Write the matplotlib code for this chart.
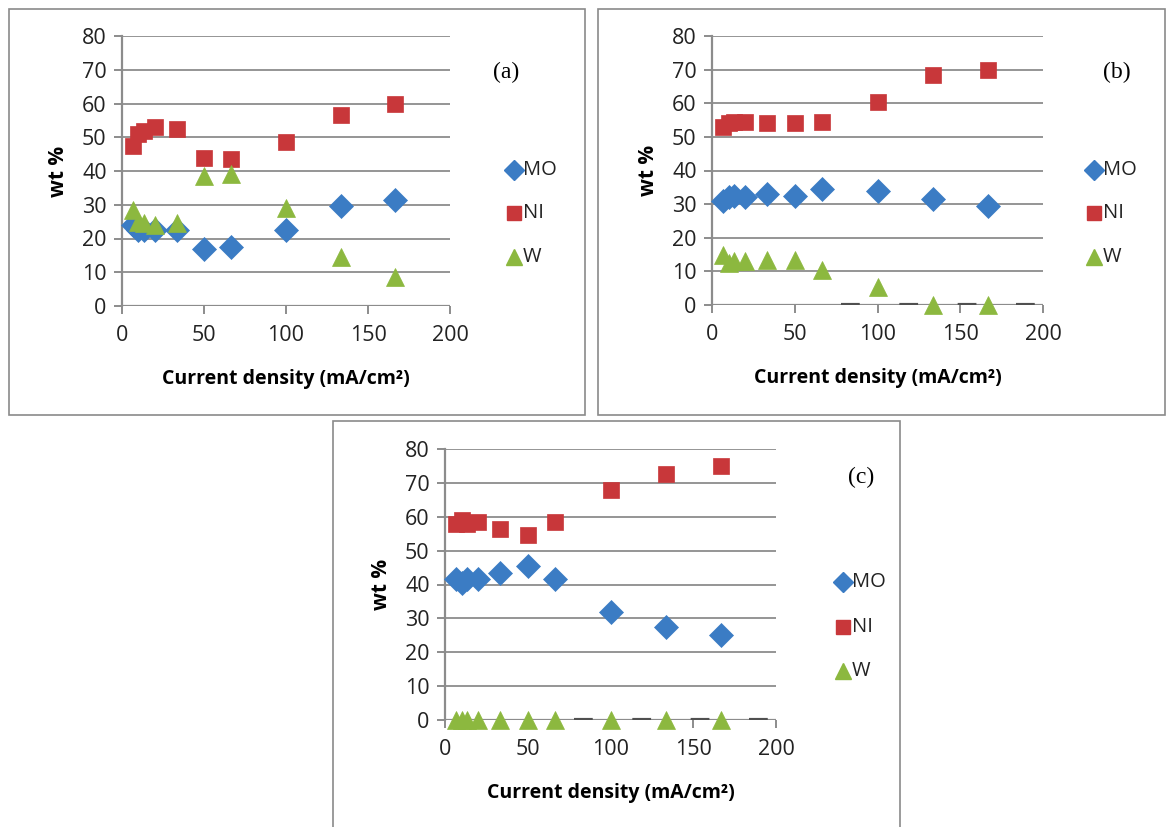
import numpy as np
import matplotlib
matplotlib.use("Agg")
import matplotlib.pyplot as plt
from matplotlib.patches import Rectangle

plt.rcParams["font.family"] = ["Open Sans", "DejaVu Sans"]

# current density (mA/cm2), same for all three baths
current = [6.7, 10, 13.3, 20, 33.3, 50, 66.7, 100, 133.3, 166.7]

mo_a = [24, 22.5, 22.5, 22.5, 22.5, 17, 17.5, 22.5, 29.5, 31.5]
ni_a = [47.5, 51, 52, 53, 52.5, 44, 43.5, 48.5, 56.5, 60]
w_a = [28.5, 25, 24.5, 24, 24.5, 38.5, 39, 29, 14.5, 8.5]

mo_b = [31, 32, 32.5, 32, 33, 32.5, 34.5, 34, 31.5, 29.5]
ni_b = [53, 54, 54.5, 54.5, 54, 54, 54.5, 60.5, 68.5, 70]
w_b = [15, 12.5, 13, 13, 13.5, 13.5, 10.5, 5.5, 0, 0]

mo_c = [41.5, 40.5, 41.5, 41.5, 43.5, 45.5, 41.5, 32, 27.5, 25]
ni_c = [58, 59, 58, 58.5, 56.5, 54.5, 58.5, 68, 72.5, 75]
w_c = [0, 0, 0, 0, 0, 0, 0, 0, 0, 0]

series_names = ["MO", "NI", "W"]
panel_tags = ["(a)", "(b)", "(c)"]

BLUE = "#3b7cc4"
RED = "#c8373a"
GREEN = "#8cb83f"
GRID = "#8c8c8c"

W, H = 1170, 827
fig = plt.figure(figsize=(W / 100, H / 100), dpi=100)


def px_axes(x0, y_top, x1, y_bot):
    return fig.add_axes([x0 / W, 1 - y_bot / H, (x1 - x0) / W, (y_bot - y_top) / H])


def frame(x0, y0, x1, y1):
    fig.add_artist(Rectangle((x0 / W, 1 - y1 / H), (x1 - x0) / W, (y1 - y0) / H,
                             transform=fig.transFigure, fill=False,
                             edgecolor="#8a8a8a", linewidth=1.2))


def panel(ax, mo, ni, w, tag, tag_xy, leg_x, leg_ys, dashed_base=False):
    ax.set_xlim(0, 200)
    ax.set_ylim(0, 80)
    ax.set_yticks(np.arange(0, 81, 10))
    ax.set_xticks(np.arange(0, 201, 50))
    for y in range(10, 81, 10):
        ax.axhline(y, color=GRID, lw=1.3, zorder=1)
    for s in ["top", "right", "bottom"]:
        ax.spines[s].set_visible(False)
    ax.spines["left"].set_color(GRID)
    ax.spines["left"].set_linewidth(1.6)
    ax.axhline(0, color=GRID, lw=1.6, zorder=1)
    if dashed_base:
        # darker dashed zero line over the axis
        ax.axhline(0, xmin=0.39, color="#505050", lw=3, dashes=(4.5, 9.5),
                   zorder=2)
    ax.tick_params(axis="both", colors=GRID, width=1.4, length=6, labelsize=15.5,
                   labelcolor="#222222")
    ax.tick_params(axis="y", pad=5)
    ax.tick_params(axis="x", pad=8)
    ax.set_ylabel("wt %", fontsize=15, fontweight="bold", labelpad=9)
    ax.set_xlabel("Current density (mA/cm²)", fontsize=14, fontweight="bold",
                  labelpad=16)
    ax.patch.set_alpha(0)

    styles = [("D", 12, BLUE), ("s", 12, RED), ("^", 12.5, GREEN)]
    for vals, (mk, ms, col) in zip([mo, ni, w], styles):
        ax.plot(current, vals, linestyle="none", marker=mk, ms=ms, color=col,
                mec=col, mew=0.5, zorder=3, clip_on=False)

    ax.text(tag_xy[0], tag_xy[1], tag, transform=None, fontsize=17,
            family="Liberation Serif", ha="center", va="center")

    # legend drawn in figure pixels
    for name, (mk, ms, col), ly in zip(series_names, styles, leg_ys):
        fig.add_artist(plt.Line2D([leg_x / W], [1 - ly / H], marker=mk, ms=ms - 1.5,
                                  color=col, linestyle="none",
                                  transform=fig.transFigure))
        fig.text((leg_x + 9) / W, 1 - ly / H, name, fontsize=14.5, va="center",
                 ha="left", color="#222222")


frame(9, 9, 585, 415)
frame(598, 9, 1165, 415)
frame(333, 421, 900, 830)

ax_a = px_axes(122, 36, 450, 306)
ax_b = px_axes(712, 36, 1043, 305)
ax_c = px_axes(445, 449, 776, 720)

panel(ax_a, mo_a, ni_a, w_a, panel_tags[0], (506, H - 72), 514, [170, 213, 257])
panel(ax_b, mo_b, ni_b, w_b, panel_tags[1], (1117, H - 72), 1094, [170, 213, 257],
      dashed_base=True)
panel(ax_c, mo_c, ni_c, w_c, panel_tags[2], (861, H - 477), 843, [582, 627, 671],
      dashed_base=True)

fig.savefig("out.png", dpi=100)
